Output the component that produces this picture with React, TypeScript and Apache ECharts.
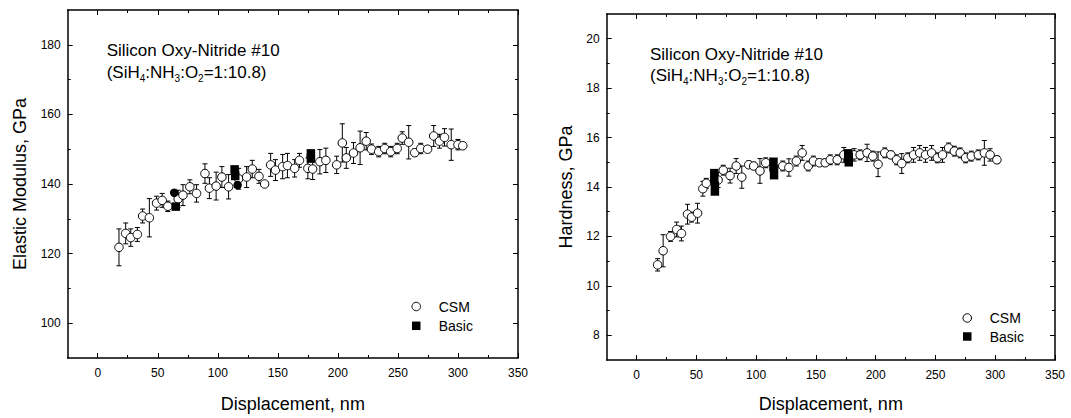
import React, { useEffect, useRef } from "react";
import * as echarts from "echarts";

// ---------- Data ----------
const xMajor = [0, 50, 100, 150, 200, 250, 300, 350];
const xMinor = [25, 75, 125, 175, 225, 275, 325];
const emMajor = [100, 120, 140, 160, 180];
const emMinor = [110, 130, 150, 170];
const hMajor = [8, 10, 12, 14, 16, 18, 20];
const hMinor = [9, 11, 13, 15, 17, 19];

// Elastic modulus, CSM
const emX = [17.7, 23.3, 27.5, 33, 37.4, 43, 49, 53.7, 58.4, 67, 71, 76.7, 82.3, 89.3, 93, 98.6, 103.4, 109, 117.4, 124, 128.7, 134.3, 139, 144, 148, 154, 158, 164, 168, 175, 179, 185, 190, 199, 203.7, 207, 213, 218.5, 223.6, 228, 234, 239, 244, 249.4, 253.6, 259, 264, 269, 274.7, 279.8, 284.6, 288.8, 294.4, 300, 304];
const emY = [121.8, 125.8, 124.6, 125.5, 130.8, 130.3, 134.5, 135.3, 133.6, 135.7, 136.8, 139.2, 137.3, 143, 138.8, 139.4, 142, 139.2, 141.5, 142, 144.3, 142.2, 140, 145.5, 144, 145, 145.3, 144.5, 146.8, 144.5, 144.3, 146.4, 146.8, 145.5, 151.8, 147.5, 148.9, 150.4, 152.3, 150, 149.3, 150.2, 149.3, 150.2, 153.2, 152, 149, 150.2, 150, 153.8, 152.3, 153.4, 151.3, 151.3, 151];
const emErr = [5.3, 3, 2.5, 2, 2, 5.5, 2, 2, 1.5, 2.5, 3, 2, 2.5, 2.8, 3, 4, 3, 3.5, 3, 3, 2.5, 2, 0, 3.3, 3, 3.5, 3.5, 2.5, 2, 3, 3, 3.5, 3.5, 2.5, 5.5, 3, 3, 4.8, 2.5, 1.5, 1.5, 1.5, 1.5, 1.5, 1.8, 4.8, 1, 1.5, 1, 3, 2, 2.5, 4.5, 1.5, 0.8];
// Elastic modulus, Basic
const emBasicX = [63.7, 65, 114, 114.5, 116.5, 177.5, 177.5];
const emBasicY = [137.5, 133.5, 144.2, 142.3, 139.7, 148.8, 147.3];
const emBasicSym = ["circle", "rect", "rect", "rect", "circle", "rect", "rect"];

// Hardness, CSM
const hX = [17.6, 22.2, 28.4, 33.5, 37.5, 42.6, 46, 51, 55.4, 58.3, 68.2, 72.5, 78.2, 83.3, 88, 93.8, 98, 103.2, 108, 122.3, 127.4, 133.6, 138.5, 143.6, 147.9, 153, 157.8, 162, 167.8, 173.4, 182, 187, 192.8, 197.6, 202, 207.6, 212.7, 217.5, 221.8, 226.9, 231.7, 236.8, 241.7, 246.8, 251.6, 255.9, 261, 265.8, 270.7, 275.2, 280, 285.8, 290.9, 295.7, 301.4];
const hY = [10.85, 11.42, 12.0, 12.28, 12.12, 12.9, 12.78, 12.94, 13.93, 14.15, 14.28, 14.68, 14.46, 14.85, 14.4, 14.9, 14.85, 14.65, 14.98, 14.85, 14.79, 15.05, 15.38, 14.85, 15.05, 14.98, 14.98, 15.1, 15.1, 15.3, 15.3, 15.3, 15.38, 15.25, 14.92, 15.38, 15.3, 15.1, 14.95, 15.18, 15.3, 15.38, 15.3, 15.38, 15.18, 15.3, 15.58, 15.45, 15.38, 15.18, 15.25, 15.3, 15.38, 15.3, 15.1];
const hErr = [0.25, 0.65, 0.2, 0.3, 0.3, 0.4, 0.2, 0.4, 0.3, 0.2, 0.3, 0.2, 0.3, 0.3, 0.45, 0.15, 0.15, 0.5, 0.2, 0.2, 0.35, 0.2, 0.3, 0.2, 0.2, 0.15, 0.15, 0.2, 0.2, 0.3, 0.25, 0.2, 0.35, 0.2, 0.5, 0.2, 0.15, 0.2, 0.4, 0.2, 0.3, 0.3, 0.3, 0.3, 0.2, 0.3, 0.2, 0.2, 0.2, 0.2, 0.2, 0.2, 0.5, 0.25, 0.15];
// Hardness, Basic
const hBasicX = [65, 65.5, 114.5, 115, 177, 177.5];
const hBasicY = [14.45, 13.93, 14.91, 14.59, 15.25, 15.11];

const FONT = "Liberation Sans, Arial, sans-serif";

function xAxesFor(gridIndex: number, nameGap: number) {
  const base = {
    type: "value",
    gridIndex,
    min: -25,
    max: 350,
    splitLine: { show: false },
  };
  return [
    {
      ...base,
      position: "bottom",
      axisLine: { show: true, onZero: false, lineStyle: { color: "#000", width: 1.5 } },
      axisTick: { show: true, inside: true, length: 5, customValues: xMajor, lineStyle: { color: "#000", width: 1 } },
      axisLabel: { show: true, customValues: xMajor, margin: 9, color: "#000", fontSize: 12, fontFamily: FONT },
      name: "Displacement, nm",
      nameLocation: "middle",
      nameGap,
      nameTextStyle: { color: "#000", fontSize: 18, fontFamily: FONT },
    },
    {
      ...base,
      position: "bottom",
      axisLine: { show: false, onZero: false },
      axisTick: { show: true, inside: true, length: 3, customValues: xMinor, lineStyle: { color: "#000", width: 1 } },
      axisLabel: { show: false },
    },
    {
      ...base,
      position: "top",
      axisLine: { show: true, onZero: false, lineStyle: { color: "#000", width: 1.5 } },
      axisTick: { show: true, inside: true, length: 5, customValues: xMajor, lineStyle: { color: "#000", width: 1 } },
      axisLabel: { show: false },
    },
    {
      ...base,
      position: "top",
      axisLine: { show: false, onZero: false },
      axisTick: { show: true, inside: true, length: 3, customValues: xMinor, lineStyle: { color: "#000", width: 1 } },
      axisLabel: { show: false },
    },
  ];
}

function yAxesFor(gridIndex: number, min: number, max: number, major: number[], minor: number[], name: string, nameGap: number) {
  const base = { type: "value", gridIndex, min, max, splitLine: { show: false } };
  return [
    {
      ...base,
      position: "left",
      axisLine: { show: true, onZero: false, lineStyle: { color: "#000", width: 1.5 } },
      axisTick: { show: true, inside: true, length: 5, customValues: major, lineStyle: { color: "#000", width: 1 } },
      axisLabel: { show: true, customValues: major, margin: 7, color: "#000", fontSize: 12, fontFamily: FONT },
      name,
      nameLocation: "middle",
      nameGap,
      nameRotate: 90,
      nameTextStyle: { color: "#000", fontSize: 18, fontFamily: FONT },
    },
    {
      ...base,
      position: "left",
      axisLine: { show: false, onZero: false },
      axisTick: { show: true, inside: true, length: 3, customValues: minor, lineStyle: { color: "#000", width: 1 } },
      axisLabel: { show: false },
    },
    {
      ...base,
      position: "right",
      axisLine: { show: true, onZero: false, lineStyle: { color: "#000", width: 1.5 } },
      axisTick: { show: true, inside: true, length: 5, customValues: major, lineStyle: { color: "#000", width: 1 } },
      axisLabel: { show: false },
    },
    {
      ...base,
      position: "right",
      axisLine: { show: false, onZero: false },
      axisTick: { show: true, inside: true, length: 3, customValues: minor, lineStyle: { color: "#000", width: 1 } },
      axisLabel: { show: false },
    },
  ];
}

function errorBarRender(params: any, api: any) {
  const x = api.value(0);
  const y = api.value(1);
  const e = api.value(2);
  if (!e) return null;
  const top = api.coord([x, y + e]);
  const bot = api.coord([x, y - e]);
  const hw = 2.5;
  const st = { stroke: "#000", lineWidth: 1 };
  return {
    type: "group",
    children: [
      { type: "line", shape: { x1: top[0], y1: top[1], x2: bot[0], y2: bot[1] }, style: st },
      { type: "line", shape: { x1: top[0] - hw, y1: top[1], x2: top[0] + hw, y2: top[1] }, style: st },
      { type: "line", shape: { x1: bot[0] - hw, y1: bot[1], x2: bot[0] + hw, y2: bot[1] }, style: st },
    ],
  };
}

const subRich = {
  n: { fontSize: 17, fontFamily: FONT, lineHeight: 21, fill: "#000" },
  s: { fontSize: 10, fontFamily: FONT, lineHeight: 10, verticalAlign: "bottom", fill: "#000" },
};
const formulaText = "{n|(SiH}{s|4}{n|:NH}{s|3}{n|:O}{s|2}{n|=1:10.8)}";

const SQUARE = "path://M0,0L10,0L10,10L0,10Z";

function legendFor(left: number, top: number, gap: number) {
  return {
    orient: "vertical",
    left,
    top,
    padding: 0,
    itemWidth: 35,
    itemHeight: 8.5,
    itemGap: gap,
    symbolKeepAspect: true,
    textStyle: { color: "#000", fontSize: 14, fontFamily: FONT, lineHeight: 14 },
    selectedMode: false,
    data: [
      { name: "CSM", icon: "circle", itemStyle: { color: "#fff", borderColor: "#000", borderWidth: 1 } },
      { name: "Basic", icon: SQUARE, itemStyle: { color: "#000", borderWidth: 0 } },
    ],
  };
}

export default function App() {
  const ref = useRef<HTMLDivElement>(null);
  useEffect(() => {
    if (!ref.current) return;
    const chart = echarts.init(ref.current, null, { renderer: "svg" });

    const emErrData = emX.map((x, i) => [x, emY[i], emErr[i]]);
    const hErrData = hX.map((x, i) => [x, hY[i], hErr[i]]);

    const option: any = {
      animation: false,
      backgroundColor: "#fff",
      textStyle: { fontFamily: FONT },
      grid: [
        { left: 67.7, top: 10, width: 450.3, height: 352 },
        { left: 606.7, top: 14, width: 448.3, height: 354 },
      ],
      xAxis: [...xAxesFor(0, 37), ...xAxesFor(1, 35)],
      yAxis: [
        ...yAxesFor(0, 90, 190, emMajor, emMinor, "Elastic Modulus, GPa", 38.7),
        ...yAxesFor(1, 7, 21, hMajor, hMinor, "Hardness, GPa", 31.7),
      ],
      legend: [legendFor(411.5, 299.5, 5.3), legendFor(962.5, 311, 4.5)],
      graphic: [
        { type: "text", x: 106.7, y: 50.7, style: { text: "Silicon Oxy-Nitride #10", fontSize: 17, fontFamily: FONT, fill: "#000", verticalAlign: "middle" } },
        { type: "text", x: 106.7, y: 72.5, style: { text: formulaText, rich: subRich, verticalAlign: "middle" } },
        { type: "text", x: 650, y: 54, style: { text: "Silicon Oxy-Nitride #10", fontSize: 17, fontFamily: FONT, fill: "#000", verticalAlign: "middle" } },
        { type: "text", x: 650, y: 75.8, style: { text: formulaText, rich: subRich, verticalAlign: "middle" } },
      ],
      series: [
        {
          type: "custom",
          name: "errEM",
          xAxisIndex: 0,
          yAxisIndex: 0,
          renderItem: errorBarRender,
          encode: { x: 0, y: 1 },
          data: emErrData,
          z: 1,
          silent: true,
        },
        {
          type: "scatter",
          name: "CSM",
          xAxisIndex: 0,
          yAxisIndex: 0,
          symbol: "circle",
          symbolSize: 8.5,
          itemStyle: { color: "#fff", borderColor: "#000", borderWidth: 1, opacity: 1 },
          data: emX.map((x, i) => [x, emY[i]]),
          z: 2,
        },
        {
          type: "scatter",
          name: "Basic",
          xAxisIndex: 0,
          yAxisIndex: 0,
          symbolSize: 8.5,
          itemStyle: { color: "#000", opacity: 1 },
          data: emBasicX.map((x, i) => ({ value: [x, emBasicY[i]], symbol: emBasicSym[i] })),
          z: 3,
        },
        {
          type: "custom",
          name: "errH",
          xAxisIndex: 4,
          yAxisIndex: 4,
          renderItem: errorBarRender,
          encode: { x: 0, y: 1 },
          data: hErrData,
          z: 1,
          silent: true,
        },
        {
          type: "scatter",
          name: "CSM",
          xAxisIndex: 4,
          yAxisIndex: 4,
          symbol: "circle",
          symbolSize: 8.5,
          itemStyle: { color: "#fff", borderColor: "#000", borderWidth: 1, opacity: 1 },
          data: hX.map((x, i) => [x, hY[i]]),
          z: 2,
        },
        {
          type: "scatter",
          name: "Basic",
          xAxisIndex: 4,
          yAxisIndex: 4,
          symbol: "rect",
          symbolSize: [8.5, 14],
          itemStyle: { color: "#000", opacity: 1 },
          data: hBasicX.map((x, i) => [x, hBasicY[i]]),
          z: 3,
        },
      ],
    };
    chart.setOption(option);
    return () => chart.dispose();
  }, []);
  return (
    <div
      ref={ref}
      style={{ position: "absolute", left: 0, top: 0, width: 1071, height: 418, background: "#fff" }}
    />
  );
}
